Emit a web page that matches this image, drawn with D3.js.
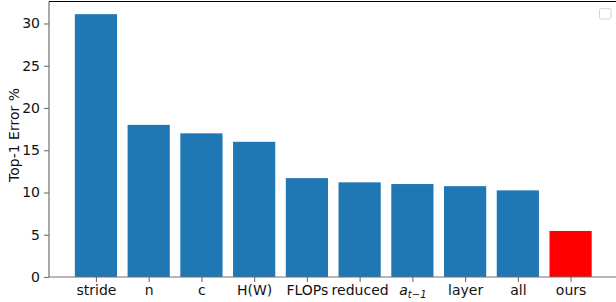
<!DOCTYPE html>
<html>
<head>
<meta charset="utf-8">
<script src="https://cdn.jsdelivr.net/npm/d3@7"></script>
<style>
  body { margin: 0; background: #fff; }
  svg { display: block; font-family: "DejaVu Sans", sans-serif; }
</style>
</head>
<body>
<svg id="chart"></svg>
<script>
var categories = ["stride", "n", "c", "H(W)", "FLOPs", "reduced", "a_t-1", "layer", "all", "ours"];
var errors = [31.1, 18.0, 17.0, 16.0, 11.7, 11.2, 11.0, 10.75, 10.25, 5.45];
var yTicks = [0, 5, 10, 15, 20, 25, 30];

var W = 616, H = 302;
var plotLeft = 49, plotTop = 1.5, plotBottom = 277;
var fs = "14px";
var svg = d3.select("#chart").attr("width", W).attr("height", H);

// index scale like matplotlib: bars at 0..9, xlim -0.89..9.89
var x = d3.scaleLinear().domain([-0.89, 9.89]).range([plotLeft, plotLeft + 10.78 * 52.74]);
var y = d3.scaleLinear().domain([0, 32.6]).range([plotBottom, plotTop]);
var bw = x(0.4) - x(-0.4);

svg.selectAll("rect.bar").data(errors).enter().append("rect")
  .attr("class", "bar")
  .attr("x", function(d, i) { return x(i - 0.4); })
  .attr("y", function(d) { return y(d); })
  .attr("width", bw)
  .attr("height", function(d) { return y(0) - y(d); })
  .attr("fill", function(d, i) { return categories[i] == "ours" ? "#ff0000" : "#1f77b4"; });

// y axis
var yAxis = d3.axisLeft(y).tickValues(yTicks).tickSize(5).tickPadding(4);
var gy = svg.append("g").attr("transform", "translate(" + plotLeft + ",0)").call(yAxis);
gy.attr("font-size", fs).attr("font-family", "DejaVu Sans");
gy.select(".domain").attr("stroke", "#707070").attr("stroke-width", 1.2).attr("d", "M0," + plotBottom + "V" + plotTop);
gy.selectAll(".tick line").attr("stroke", "#707070").attr("stroke-width", 1.1);
gy.selectAll(".tick text").attr("fill", "#111");

// x axis
var xAxis = d3.axisBottom(x).tickValues(d3.range(categories.length)).tickSize(5).tickPadding(3)
  .tickFormat(function(i) { return categories[i]; });
var gx = svg.append("g").attr("transform", "translate(0," + plotBottom + ")").call(xAxis);
gx.attr("font-size", fs).attr("font-family", "DejaVu Sans");
gx.select(".domain").attr("stroke", "#707070").attr("stroke-width", 1.2).attr("d", "M" + plotLeft + ",0H" + W);
gx.selectAll(".tick line").attr("stroke", "#707070").attr("stroke-width", 1.1);
gx.selectAll(".tick text").attr("fill", "#111")
  .each(function(i) {
    if (categories[i] == "a_t-1") {
      var t = d3.select(this).text("");
      t.append("tspan").attr("font-style", "italic").text("a");
      t.append("tspan").attr("font-style", "italic").attr("font-size", "10px").attr("dy", "3").text("t\u22121");
    }
  });

// top spine
svg.append("line").attr("x1", plotLeft).attr("x2", W).attr("y1", plotTop).attr("y2", plotTop)
  .attr("stroke", "#000").attr("stroke-width", 1.2);

// y label
svg.append("text")
  .attr("transform", "translate(19,135) rotate(-90)")
  .attr("text-anchor", "middle")
  .attr("font-size", fs)
  .attr("fill", "#111")
  .text("Top-1 Error %");

// empty legend box
svg.append("rect").attr("x", 599.5).attr("y", 8.5).attr("width", 11.5).attr("height", 10.5)
  .attr("rx", 2).attr("fill", "#fff").attr("stroke", "#d5d5d5").attr("stroke-width", 1);
</script>
</body>
</html>
